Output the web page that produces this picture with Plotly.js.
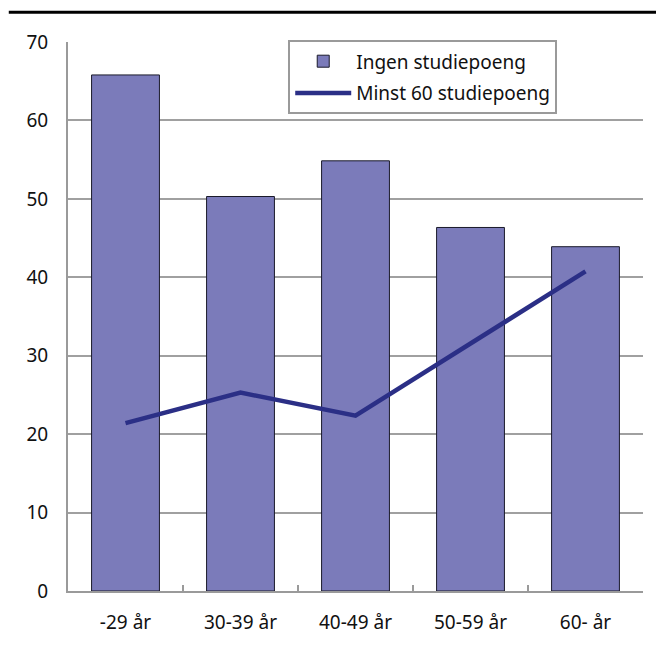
<!DOCTYPE html>
<html>
<head>
<meta charset="utf-8">
<script src="https://cdn.plot.ly/plotly-3.0.1.min.js"></script>
<style>html,body{margin:0;padding:0;background:#fff;}#chart{width:656px;height:650px;}</style>
</head>
<body>
<div id="chart"></div>
<script>
var categories = ["-29 år", "30-39 år", "40-49 år", "50-59 år", "60- år"];
var ingenStudiepoeng = [65.8, 50.3, 54.85, 46.35, 43.9];
var minst60Studiepoeng = [21.4, 25.3, 22.35, 31.6, 40.75];
var seriesNames = ["Ingen studiepoeng", "Minst 60 studiepoeng"];
var yTicks = [0, 10, 20, 30, 40, 50, 60, 70];

var traces = [
  {
    type: "bar",
    x: categories,
    y: ingenStudiepoeng,
    name: seriesNames[0],
    legendgroup: "a",
    marker: {color: "#7b7bba", line: {color: "#1a1a2a", width: 1}},
    hoverinfo: "x+y"
  },
  {
    type: "scatter",
    mode: "lines",
    x: categories,
    y: minst60Studiepoeng,
    name: seriesNames[1],
    legendgroup: "b",
    line: {color: "#2b2f86", width: 4.5},
    hoverinfo: "x+y"
  }
];

var layout = {
  width: 656,
  height: 650,
  margin: {l: 68, r: 13, t: 42, b: 59},
  paper_bgcolor: "#ffffff",
  plot_bgcolor: "#ffffff",
  font: {family: "Noto Sans, sans-serif", size: 19, color: "#111"},
  bargap: 0.41,
  showlegend: true,
  legend: {
    x: 0.383, y: 1.003, xanchor: "left", yanchor: "top",
    bgcolor: "#ffffff", bordercolor: "#9a9a9a", borderwidth: 2,
    font: {size: 19, color: "#111"},
    traceorder: "grouped",
    tracegroupgap: 4,
    itemwidth: 56
  },
  xaxis: {
    type: "category",
    tickson: "boundaries",
    ticks: "inside",
    ticklen: 6,
    tickwidth: 2,
    tickcolor: "#9a9a9a",
    showline: true,
    linecolor: "#9a9a9a",
    linewidth: 2,
    showgrid: false,
    ticklabelstandoff: 13,
    tickfont: {size: 19},
    fixedrange: true
  },
  yaxis: {
    range: [0, 70],
    tickvals: yTicks,
    ticktext: yTicks.map(String),
    showgrid: true,
    gridcolor: "#a0a0a0",
    gridwidth: 2,
    showline: true,
    linecolor: "#9a9a9a",
    linewidth: 2,
    zeroline: false,
    ticks: "",
    ticklabelstandoff: 14,
    tickfont: {size: 19},
    fixedrange: true
  },
  shapes: [
    {type: "line", xref: "paper", yref: "paper", x0: -0.103, x1: 1.03, y0: 1.054, y1: 1.054,
     line: {color: "#000", width: 3}}
  ]
};

Plotly.newPlot("chart", traces, layout, {displayModeBar: false, staticPlot: true});
</script>
</body>
</html>
